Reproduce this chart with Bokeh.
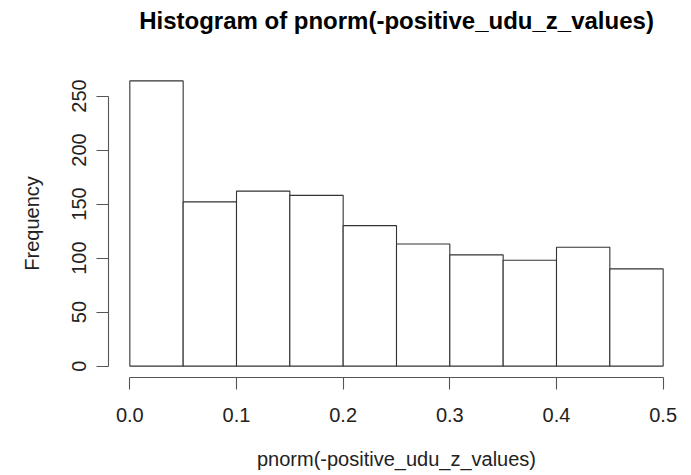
from bokeh.plotting import figure
from bokeh.models import Range1d, FixedTicker
from bokeh.embed import file_html
from bokeh.resources import INLINE

# Histogram bin edges and counts
bin_edges = [0.00, 0.05, 0.10, 0.15, 0.20, 0.25, 0.30, 0.35, 0.40, 0.45, 0.50]
counts = [264, 152, 162, 158, 130, 113, 103, 98, 110, 90]

# Axis ticks and labels
x_ticks = [0.0, 0.1, 0.2, 0.3, 0.4, 0.5]
x_tick_labels = ["0.0", "0.1", "0.2", "0.3", "0.4", "0.5"]
y_ticks = [0, 50, 100, 150, 200, 250]

FONT = "Liberation Sans"

x_lo, x_hi = bin_edges[0], bin_edges[-1]
y_lo, y_hi = 0, max(counts)
x_pad = 0.04 * (x_hi - x_lo)
y_pad = 0.04 * (y_hi - y_lo)

p = figure(
    width=691, height=475,
    x_range=Range1d(x_lo - x_pad, x_hi + x_pad),
    y_range=Range1d(y_lo - y_pad, y_hi + y_pad),
    output_backend="svg", toolbar_location=None,
    min_border_left=108, min_border_right=7,
    min_border_top=69, min_border_bottom=98,
    title="Histogram of pnorm(-positive_udu_z_values)",
)
p.outline_line_color = None
p.background_fill_color = "white"
p.border_fill_color = "white"
p.grid.visible = False

# title sits near the top edge, with a gap of empty space below it
p.title.text_font = FONT
p.title.text_font_size = "24px"
p.title.text_font_style = "bold"
p.title.text_color = "black"
p.title.align = "center"
p.title.standoff = 0
p.title.padding = dict(left=0, right=0, top=0, bottom=36)

p.quad(left=bin_edges[:-1], right=bin_edges[1:], bottom=0, top=counts,
       fill_color="white", line_color="#333333", line_width=1.1)

for ax in (p.xaxis[0], p.yaxis[0]):
    ax.axis_line_color = "#555555"
    ax.major_tick_line_color = "#555555"
    ax.axis_line_width = 1.1
    ax.major_tick_line_width = 1.1
    ax.major_tick_out = 12
    ax.major_tick_in = 0
    ax.minor_tick_line_color = None
    ax.major_label_text_font = FONT
    ax.major_label_text_font_size = "20px"
    ax.major_label_text_color = "#222222"
    ax.axis_label_text_font = FONT
    ax.axis_label_text_font_size = "20px"
    ax.axis_label_text_font_style = "normal"
    ax.axis_label_text_color = "#222222"

xa = p.xaxis[0]
xa.ticker = FixedTicker(ticks=x_ticks)
xa.major_label_overrides = {t: s for t, s in zip(x_ticks, x_tick_labels)}
xa.bounds = (x_lo, x_hi)
xa.major_label_standoff = 18
xa.axis_label = "pnorm(-positive_udu_z_values)"
xa.axis_label_standoff = 23

ya = p.yaxis[0]
ya.ticker = FixedTicker(ticks=y_ticks)
ya.bounds = (y_ticks[0], y_ticks[-1])
ya.major_label_orientation = "vertical"
ya.major_label_standoff = 10
ya.axis_label = "Frequency"
ya.axis_label_standoff = 27

open("out.html", "w").write(file_html(p, INLINE))
